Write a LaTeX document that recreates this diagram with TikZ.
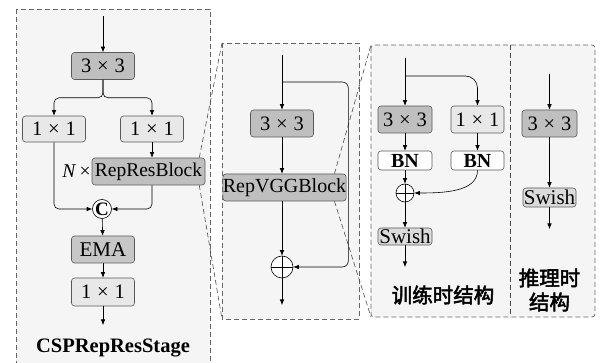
\documentclass[tikz,border=0pt]{standalone}
\usepackage{fontspec}
\setmainfont{Liberation Serif}
\newfontfamily\cjk[FakeBold=2.5]{Noto Sans CJK SC}
\usetikzlibrary{arrows.meta,backgrounds,positioning,calc}
\newcommand\kxk[1]{#1\hspace{.28em}×\hspace{.28em}#1}
\tikzset{
  blk/.style={draw=black!65, rounded corners=3pt, line width=.6pt, inner sep=0pt, minimum height=27pt},
  dk/.style={blk, fill=black!25},
  lt/.style={blk, fill=black!9},
  digs/.style={font=\fontsize{20.5}{20.5}\selectfont},
  wrds/.style={font=\fontsize{19.5}{19.5}\selectfont},
  arr/.style={-{Latex[length=5.5pt,width=4.5pt]}, line width=.6pt},
  panel/.style={draw=black!60, dash pattern=on 5pt off 3pt, fill=black!4, line width=.7pt},
  zoomln/.style={draw=black!70, dash pattern=on 5pt off 3pt, line width=.6pt},
  sumc/.style={circle, draw, fill=white, line width=.6pt, minimum size=#1, inner sep=0pt,
    path picture={\draw (path picture bounding box.north) -- (path picture bounding box.south)
      (path picture bounding box.west) -- (path picture bounding box.east);}},
}
\begin{document}
\begin{tikzpicture}[x=1pt, y=-1pt]
  \useasboundingbox (0,0) rectangle (603,363);
  % CSPRepResStage
  \coordinate (in1) at (103,16);
  \node[dk, digs, minimum width=63pt] (b33) at (103,66) {\kxk{3}};
  \node[lt, digs, minimum width=63pt, minimum height=26pt] (l11) at (54,129) {\kxk{1}};
  \node[lt, digs, minimum width=63pt, minimum height=26pt] (r11) at (152,129) {\kxk{1}};
  \node[dk, wrds, minimum width=113pt] (rrb) at (148.5,171.5) {RepResBlock};
  \node[wrds, anchor=east, inner sep=1pt] (nrep) at (rrb.west) {\textit{N}\,×};
  \node[circle, draw, fill=white, line width=.6pt, inner sep=0pt, minimum size=19pt,
    font=\fontsize{19}{19}\selectfont\bfseries] (cat) at (102,209) {C};
  \node[dk, minimum width=63pt, fill=black!22, font=\fontsize{21}{21}\selectfont] (ema) at (103,249.5) {EMA};
  \node[lt, digs, minimum width=63pt, minimum height=28pt] (o11) at (103,292) {\kxk{1}};
  \coordinate (out1) at (103,325);
  \node[font=\fontsize{20.5}{20.5}\selectfont\bfseries] (stg) at (113,348) {CSPRepResStage};
  \draw[arr] (in1) -- (b33);
  \draw[arr, rounded corners=5pt] (b33.south) -- ++(0,18) -| (l11.north);
  \draw[arr, rounded corners=5pt] (b33.south) -- ++(0,18) -| (r11.north);
  \draw[arr] (r11.south) -- (r11.south |- rrb.north);
  \draw[arr, rounded corners=5pt] (l11.south) |- (cat.west);
  \draw[arr, rounded corners=5pt] (r11.south |- rrb.south) |- (cat.east);
  \draw[arr] (cat) -- (ema);
  \draw[arr] (ema) -- (o11);
  \draw[arr] (o11) -- (out1);
  % RepResBlock
  \coordinate (in2) at (282,55);
  \coordinate (sk2) at (282,82);
  \node[dk, digs, minimum width=63pt] (v33) at (282,123.5) {\kxk{3}};
  \node[dk, font=\fontsize{20}{20}\selectfont, minimum width=119pt] (rvgg) at (284.5,187.5) {RepVGGBlock};
  \node[sumc=22pt] (add2) at (282,267) {};
  \coordinate (out2) at (282,305);
  \draw[arr] (in2) -- (v33);
  \draw[arr] (v33) -- (v33 |- rvgg.north);
  \draw[arr] (v33 |- rvgg.south) -- (add2);
  \draw[arr] (add2) -- (out2);
  \draw[arr, rounded corners=6pt] (sk2) -| ($(add2.east)+(55,0)$) -- (add2.east);
  % RepVGGBlock: training / inference
  \coordinate (in3) at (405,58);
  \coordinate (sk3) at (405,76);
  \node[dk, digs, minimum width=54pt] (t33) at (405,119.5) {\kxk{3}};
  \node[lt, digs, minimum width=53pt] (t11) at (477.5,119.5) {\kxk{1}};
  \node[blk, fill=white, minimum width=54pt, minimum height=19pt, font=\fontsize{20}{20}\selectfont\bfseries] (bn1) at (405,160.5) {BN};
  \node[blk, fill=white, minimum width=53pt, minimum height=19pt, font=\fontsize{20}{20}\selectfont\bfseries] (bn2) at (477.5,160.5) {BN};
  \node[sumc=18pt] (add3) at (405,193) {};
  \node[blk, fill=black!14, minimum width=54pt, minimum height=17pt, font=\fontsize{21}{21}\selectfont] (sw1) at (405,236.5) {Swish};
  \coordinate (out3) at (405,267);
  \node[font=\cjk\fontsize{20.5}{20.5}\selectfont] (trn) at (443,295) {训练时结构};
  \draw[arr] (in3) -- (t33);
  \draw[arr, rounded corners=12pt] (sk3) -| (t11.north);
  \draw[arr] (t33) -- (bn1);
  \draw[arr] (t11) -- (bn2);
  \draw[arr] (bn1) -- (add3);
  \draw[arr] (bn2.south) .. controls +(0,22) and +(28,0) .. (add3.east);
  \draw[arr] (add3) -- (sw1);
  \draw[arr] (sw1) -- (out3);
  \coordinate (in4) at (549.5,74);
  \node[dk, digs, minimum width=55pt] (i33) at (549.5,123.5) {\kxk{3}};
  \node[blk, fill=black!14, minimum width=53pt, minimum height=19pt, font=\fontsize{21}{21}\selectfont] (isw) at (549.5,197.5) {Swish};
  \coordinate (out4) at (549.5,229);
  \node[align=center, font=\cjk\fontsize{20.5}{24}\selectfont] (inf) at (549.5,290) {推理时\\结构};
  \draw[arr] (in4) -- (i33);
  \draw[arr] (i33) -- (isw);
  \draw[arr] (isw) -- (out4);
  % panels and zoom lines
  \begin{scope}[on background layer]
    \draw[panel] (16,9) rectangle (210,368);
    \draw[panel] (222,43) coordinate (p2nw) rectangle (359,319);
    \coordinate (p2sw) at (222,319);
    \draw[panel, rounded corners=3pt] (371,45) coordinate (p3nw) rectangle (595,317);
    \coordinate (p3sw) at (371,317);
    \draw[zoomln] (510,45) -- (510,317);
    \draw[zoomln] ([xshift=-6pt]rrb.north east) -- (p2nw);
    \draw[zoomln] ([xshift=-6pt]rrb.south east) -- (p2sw);
    \draw[zoomln] ([xshift=-12pt]rvgg.north east) -- (p3nw);
    \draw[zoomln] ([xshift=-12pt]rvgg.south east) -- (p3sw);
  \end{scope}
\end{tikzpicture}
\end{document}
